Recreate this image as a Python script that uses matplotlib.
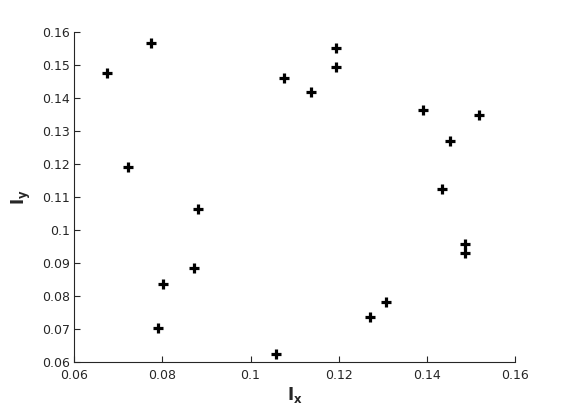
import matplotlib
matplotlib.use('Agg')
import matplotlib.pyplot as plt

# data
Ix = [0.0675, 0.0775, 0.0722, 0.0881, 0.0872, 0.0802, 0.0790, 0.1058, 0.1076, 0.1137,
      0.1194, 0.1194, 0.1391, 0.1453, 0.1517, 0.1435, 0.1485, 0.1487, 0.1308, 0.1270]
Iy = [0.1475, 0.1566, 0.1191, 0.1064, 0.0885, 0.0837, 0.0704, 0.0625, 0.1460, 0.1418,
      0.1551, 0.1493, 0.1363, 0.1269, 0.1347, 0.1123, 0.0957, 0.0930, 0.0783, 0.0738]
xticks = [0.06, 0.08, 0.1, 0.12, 0.14, 0.16]
yticks = [0.06, 0.07, 0.08, 0.09, 0.1, 0.11, 0.12, 0.13, 0.14, 0.15, 0.16]

fig = plt.figure(figsize=(5.7, 4.13), dpi=100)
ax = fig.add_axes([0.1298, 0.1228, 0.7742, 0.8005])

ax.plot(Ix, Iy, '+', color='k', markersize=7.5, markeredgewidth=2.3, linestyle='none')

ax.set_xlim(0.06, 0.16)
ax.set_ylim(0.06, 0.16)
ax.set_xticks(xticks)
ax.set_yticks(yticks)
ax.set_xticklabels(['%g' % t for t in xticks])
ax.set_yticklabels(['%g' % t for t in yticks])

gray = '#262626'
for s in ['top', 'right']:
    ax.spines[s].set_visible(False)
for s in ['left', 'bottom']:
    ax.spines[s].set_color(gray)
    ax.spines[s].set_linewidth(0.8)
ax.tick_params(direction='in', length=4, width=0.8, colors=gray, labelsize=9)
ax.tick_params(axis='x', pad=5)
ax.tick_params(axis='y', pad=3)

ax.set_xlabel(r'$\mathbf{I_x}$', fontsize=12, color=gray, labelpad=2)
ax.set_ylabel(r'$\mathbf{I_y}$', fontsize=12, color=gray, labelpad=6)

fig.savefig('out.png', dpi=100)
